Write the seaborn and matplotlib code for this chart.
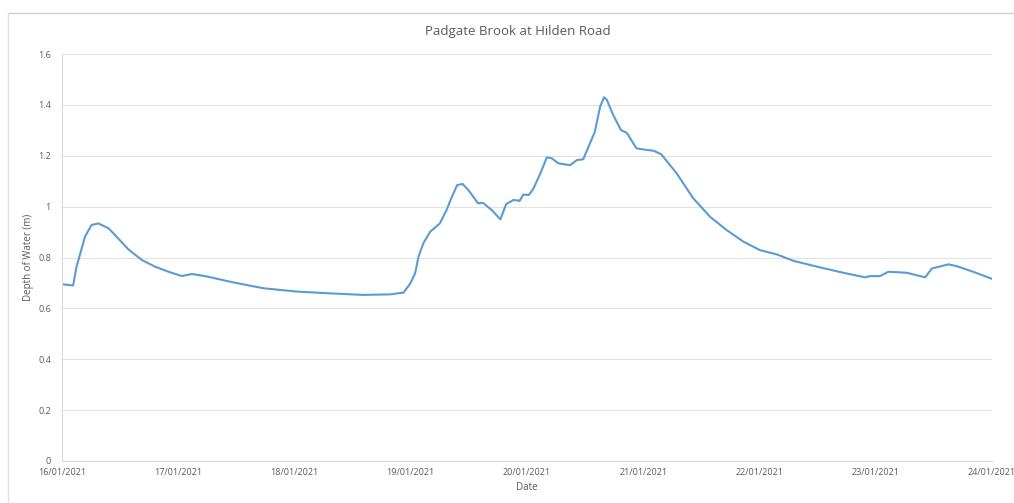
import matplotlib
matplotlib.use("Agg")
import matplotlib.pyplot as plt
import matplotlib.dates as mdates
from matplotlib.lines import Line2D
import numpy as np
import pandas as pd
import seaborn as sns

# Gauge record: hours after 16/01/2021 00:00 and water depth (m)
hours = [0.0, 2.3, 3.0, 4.75, 6.1, 7.5, 9.6, 11.6, 13.7, 16.5, 19.2, 22.0,
         24.7, 26.8, 29.5, 35.4, 41.6, 48.5, 55.3, 62.2, 67.7, 70.5, 71.9,
         72.9, 73.6, 74.6, 76.0, 78.0, 79.4, 80.5, 81.6, 82.7, 83.9, 85.9,
         86.9, 88.7, 90.5, 91.7, 93.2, 94.5, 95.2, 96.4, 97.3, 98.7, 100.1,
         101.1, 102.5, 104.9, 106.3, 107.6, 109.0, 110.0, 111.1, 111.9,
         112.5, 113.8, 115.4, 116.6, 118.6, 121.0, 122.1, 123.7, 126.9,
         130.3, 133.8, 137.2, 140.7, 144.1, 147.6, 151.0, 156.5, 161.3,
         165.8, 166.8, 168.9, 170.6, 174.4, 178.2, 179.6, 183.0, 184.7,
         188.1, 192.0]
depth = [0.695, 0.690, 0.764, 0.882, 0.928, 0.934, 0.915, 0.875, 0.832,
         0.790, 0.764, 0.744, 0.727, 0.735, 0.727, 0.702, 0.679, 0.666,
         0.659, 0.653, 0.655, 0.662, 0.698, 0.738, 0.803, 0.856, 0.901,
         0.934, 0.987, 1.039, 1.085, 1.089, 1.065, 1.013, 1.015, 0.987,
         0.950, 1.010, 1.026, 1.023, 1.047, 1.046, 1.070, 1.128, 1.194,
         1.190, 1.170, 1.163, 1.183, 1.186, 1.249, 1.294, 1.393, 1.430,
         1.419, 1.360, 1.301, 1.290, 1.229, 1.222, 1.220, 1.206, 1.131,
         1.033, 0.960, 0.908, 0.862, 0.829, 0.812, 0.787, 0.761, 0.740,
         0.722, 0.727, 0.727, 0.744, 0.740, 0.722, 0.757, 0.773, 0.766,
         0.744, 0.716]

y_ticks = [0, 0.2, 0.4, 0.6, 0.8, 1.0, 1.2, 1.4, 1.6]
y_tick_labels = ["0", "0.2", "0.4", "0.6", "0.8", "1", "1.2", "1.4", "1.6"]
day_ticks = pd.date_range("2021-01-16", "2021-01-24", freq="D")

start = pd.Timestamp("2021-01-16")
df = pd.DataFrame({
    "Date": start + pd.to_timedelta(hours, unit="h"),
    "Depth": depth,
})

sns.set_theme(style="white")
plt.rcParams["font.family"] = ["Open Sans", "DejaVu Sans"]

text_grey = "#595959"
grid_grey = "#e3e3e3"

fig = plt.figure(figsize=(10.14, 5.03), dpi=100)
ax = fig.add_axes([62 / 1014, 1 - 461 / 503, 930 / 1014, 407 / 503])

sns.lineplot(data=df, x="Date", y="Depth", ax=ax, color="#5b9bd5",
             linewidth=1.5)

ax.set_xlim(day_ticks[0], day_ticks[-1])
ax.set_ylim(0, 1.6)
ax.set_yticks(y_ticks)
ax.set_yticklabels(y_tick_labels)
ax.set_xticks(day_ticks)
ax.xaxis.set_major_formatter(mdates.DateFormatter("%d/%m/%Y"))

ax.yaxis.grid(True, color=grid_grey, linewidth=0.8)
ax.xaxis.grid(False)
ax.set_axisbelow(True)
for side in ["top", "right"]:
    ax.spines[side].set_visible(False)
for side in ["left", "bottom"]:
    ax.spines[side].set_color("#d9d9d9")
    ax.spines[side].set_linewidth(0.8)

ax.tick_params(axis="both", length=0, labelsize=6.5, colors=text_grey)
ax.tick_params(axis="x", pad=5)
ax.tick_params(axis="y", pad=8)

ax.set_xlabel("Date", fontsize=7, color=text_grey, labelpad=4)
ax.set_ylabel("Depth of Water (m)", fontsize=7, color=text_grey, labelpad=3)
fig.text(518 / 1014, 1 - 32 / 503, "Padgate Brook at Hilden Road",
         ha="center", va="center", fontsize=9.5, color=text_grey)

# Chart-area frame (top and left edges visible within the canvas)
fig.add_artist(Line2D([8 / 1014, 1.0], [1 - 13 / 503, 1 - 13 / 503],
                      transform=fig.transFigure, color="#d0d0d0",
                      linewidth=1.0))
fig.add_artist(Line2D([8 / 1014, 8 / 1014], [0.0, 1 - 13 / 503],
                      transform=fig.transFigure, color="#e0e0e0",
                      linewidth=1.0))

fig.savefig("out.png", dpi=100, facecolor="white")
